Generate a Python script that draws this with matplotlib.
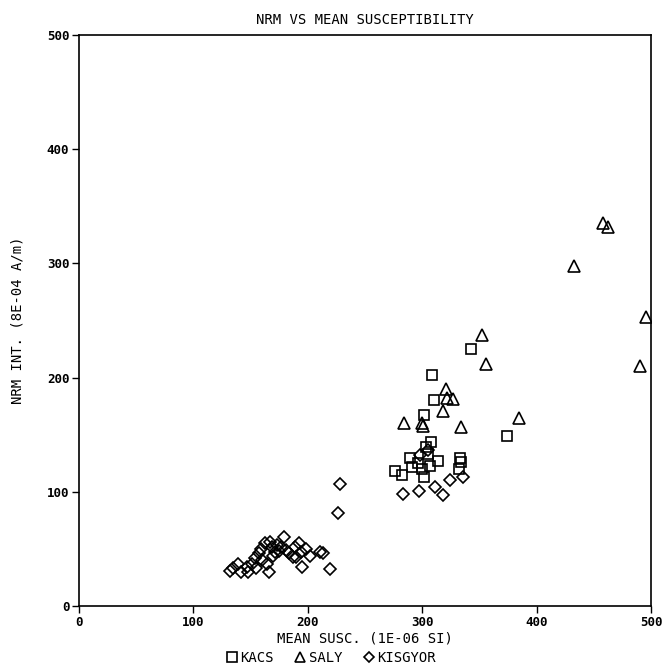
import matplotlib
matplotlib.use("Agg")
import matplotlib.pyplot as plt
from matplotlib.lines import Line2D

# KACS (squares)
kacs_x = [343, 309, 310, 302, 308, 303, 333, 334, 289, 296, 314, 276, 282, 300, 307, 302, 332, 291, 374, 305]
kacs_y = [225, 202, 180, 167, 144, 139, 130, 126, 130, 125, 127, 118, 115, 120, 123, 113, 120, 122, 149, 133]

# SALY (triangles)
saly_x = [458, 462, 433, 496, 490, 352, 356, 321, 322, 327, 318, 284, 300, 334, 385, 301]
saly_y = [335, 332, 298, 253, 210, 237, 212, 190, 182, 181, 171, 160, 160, 157, 165, 158]

# KISGYOR (diamonds)
kis_x = [132, 135, 139, 142, 147, 148, 151, 154, 155, 157, 159, 163, 167, 169, 171, 164, 166, 170,
         173, 179, 177, 181, 184, 187, 189, 192, 194, 198, 190, 195, 202, 211, 213, 219,
         228, 226, 283, 297, 311, 318, 324, 336, 298, 305, 160, 175]
kis_y = [31, 33, 37, 30, 34, 30, 37, 42, 33, 46, 50, 55, 56, 52, 47, 37, 30, 44,
         53, 60, 52, 49, 46, 43, 52, 55, 47, 50, 43, 34, 44, 47, 46, 32,
         107, 81, 98, 101, 104, 97, 110, 113, 132, 137, 40, 48]

x_ticks = [0, 100, 200, 300, 400, 500]
y_ticks = [0, 100, 200, 300, 400, 500]

plt.rcParams['font.family'] = ['DejaVu Sans Mono']

fig = plt.figure(figsize=(6.62, 6.70), dpi=100)
ax = fig.add_axes([79/662, 64/670, 572/662, 571/670])

mk = dict(linestyle='none', markerfacecolor='none', markeredgecolor='black', markeredgewidth=1.2)
ax.plot(kacs_x, kacs_y, marker='s', markersize=7, **mk)
ax.plot(saly_x, saly_y, marker='^', markersize=8, **mk)
ax.plot(kis_x, kis_y, marker='D', markersize=6, **mk)

ax.set_xlim(0, 500)
ax.set_ylim(0, 500)
ax.set_xticks(x_ticks)
ax.set_yticks(y_ticks)
ax.set_xticklabels([str(t) for t in x_ticks], fontsize=9, fontweight='bold')
ax.set_yticklabels([str(t) for t in y_ticks], fontsize=9, fontweight='bold')
ax.tick_params(direction='out', length=5, width=1, pad=2)
for s in ax.spines.values():
    s.set_linewidth(1.2)

ax.set_title('NRM VS MEAN SUSCEPTIBILITY', fontsize=10, pad=8)
ax.set_xlabel('MEAN SUSC. (1E-06 SI)', fontsize=10, labelpad=2)
ax.set_ylabel('NRM INT. (8E-04 A/m)', fontsize=10, labelpad=16)

handles = [
    Line2D([], [], marker='s', markersize=7, **mk),
    Line2D([], [], marker='^', markersize=7, **mk),
    Line2D([], [], marker='D', markersize=5, **mk),
]
fig.legend(handles, ['KACS', 'SALY', 'KISGYOR'], loc='center', bbox_to_anchor=(0.5, 12/670),
           ncol=3, frameon=False, fontsize=10, handlelength=0.8, handletextpad=0.2,
           columnspacing=1.5, borderpad=0)

fig.savefig('out.png', dpi=100)
